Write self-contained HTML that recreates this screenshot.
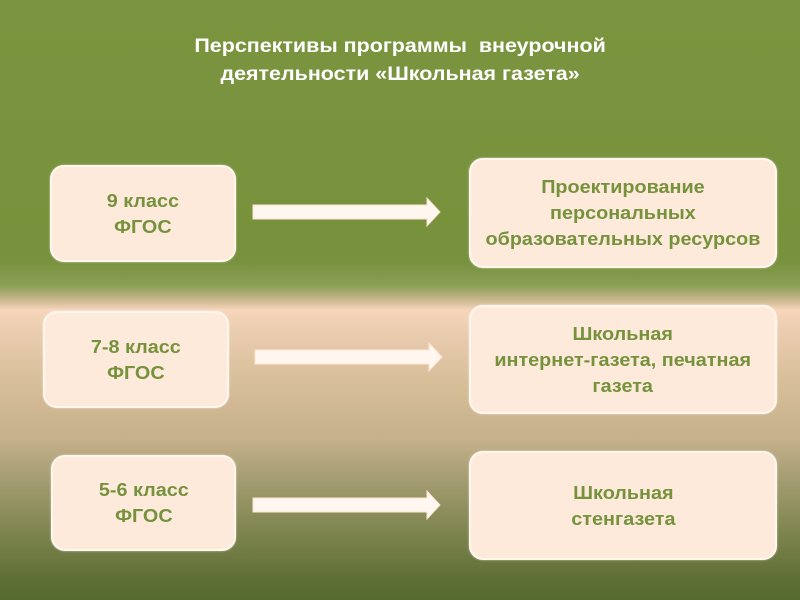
<!DOCTYPE html>
<html><head><meta charset="utf-8"><style>
html,body{margin:0;padding:0}
body{width:800px;height:600px;position:relative;overflow:hidden;font-family:"Liberation Sans",sans-serif;
background:linear-gradient(to bottom,#7a943f 0px,#77913c 260px,#8a9d55 285px,#c9b88e 300px,#f7d6bc 310px,#ebcdb0 330px,#d8bf9a 380px,#c4b089 440px,#a49c72 480px,#7f8650 530px,#5e6f34 580px,#566a30 600px)}
.t{position:absolute;left:0;width:800px;top:33px;text-align:center;color:#fff;font-weight:bold;font-size:19px;line-height:28px}
.t span{display:inline-block;transform:scaleX(1.13)}
.b{position:absolute;background:#fdeadb;border:2px solid #fff6ee;border-radius:14px;box-sizing:border-box;display:flex;align-items:center;justify-content:center;text-align:center;color:#76923c;font-weight:bold;font-size:18px;line-height:26px;box-shadow:0 0 2px rgba(255,255,255,.6)}
.b span{display:inline-block;transform:scaleX(1.1)}
svg{position:absolute;left:0;top:0}
</style></head><body>
<div class="t"><span>Перспективы программы&nbsp; внеурочной<br>деятельности «Школьная газета»</span></div>
<div class="b" style="left:50px;top:165px;width:186px;height:97px"><span>9 класс<br>ФГОС</span></div>
<div class="b" style="left:43px;top:311px;width:186px;height:97px"><span>7-8 класс<br>ФГОС</span></div>
<div class="b" style="left:51px;top:455px;width:185px;height:96px"><span>5-6 класс<br>ФГОС</span></div>
<div class="b" style="left:469px;top:158px;width:308px;height:110px"><span>Проектирование<br>персональных<br>образовательных ресурсов</span></div>
<div class="b" style="left:469px;top:305px;width:308px;height:109px"><span>Школьная<br>интернет-газета, печатная<br>газета</span></div>
<div class="b" style="left:469px;top:451px;width:308px;height:109px"><span>Школьная<br>стенгазета</span></div>
<svg width="800" height="600">
<g fill="#fff7f0" stroke="#fde4d0" stroke-width="1">
<polygon points="253,205 427,205 427,198 440,212 427,226 427,219 253,219"/>
<polygon points="255,350 429,350 429,343 442,357 429,371 429,364 255,364"/>
<polygon points="253,498 427,498 427,491 440,505 427,519 427,512 253,512"/>
</g></svg>
</body></html>
